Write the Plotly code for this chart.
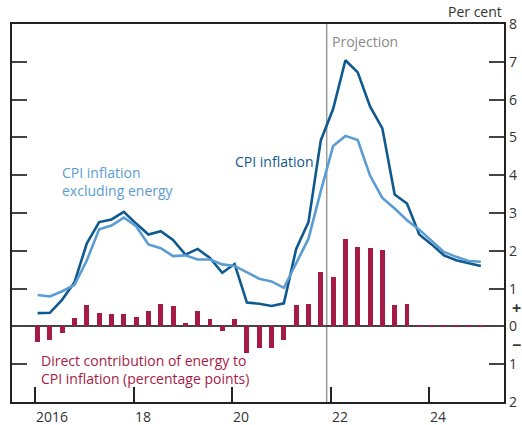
import plotly.graph_objects as go

# Quarterly positions, 2016 Q1 .. 2025 Q1
quarters = [f"{2016 + i // 4} Q{i % 4 + 1}" for i in range(37)]
x_pos = [2016.05 + 0.25 * i for i in range(37)]

cpi = [0.35, 0.36, 0.71, 1.17, 2.20, 2.76, 2.83, 3.03, 2.72, 2.43, 2.52, 2.29,
       1.90, 2.05, 1.81, 1.42, 1.65, 0.63, 0.60, 0.54, 0.61, 2.05, 2.76, 4.92,
       5.75, 7.04, 6.72, 5.82, 5.24, 3.49, 3.25, 2.43, 2.17, 1.88, 1.75, 1.67, 1.60]

cpi_ex_energy = [0.83, 0.79, 0.93, 1.10, 1.75, 2.57, 2.67, 2.88, 2.65, 2.17, 2.07, 1.86,
                 1.88, 1.77, 1.77, 1.64, 1.60, 1.42, 1.26, 1.19, 1.02, 1.67, 2.32, 3.58,
                 4.77, 5.04, 4.93, 3.99, 3.40, 3.12, 2.81, 2.56, 2.26, 1.97, 1.84, 1.73, 1.71]

energy_contrib = [-0.40, -0.36, -0.17, 0.22, 0.56, 0.36, 0.32, 0.34, 0.24, 0.40, 0.58, 0.53,
                  0.10, 0.40, 0.19, -0.12, 0.19, -0.71, -0.57, -0.57, -0.36, 0.56, 0.58, 1.43,
                  1.30, 2.32, 2.11, 2.08, 2.03, 0.57, 0.60, 0.02, 0.02, 0.05, 0.05, 0.05, 0.05]

projection_start = 2021.92

x_tick_vals = [2016, 2018, 2020, 2022, 2024]
x_tick_text = ["2016", "18", "20", "22", "24"]
y_tick_vals = [8, 7, 6, 5, 4, 3, 2, 1, 0, -1, -2]
y_tick_text = ["8", "7", "6", "5", "4", "3", "2", "1", "0", "1", "2"]

DARK = "#10598f"
LIGHT = "#5b9cd3"
CRIMSON = "#a61b45"
FONT = "Open Sans"

fig = go.Figure()

fig.add_trace(go.Bar(x=x_pos, y=energy_contrib, width=0.1, marker_color=CRIMSON,
                     marker_line_width=0, name="Energy contribution", yaxis="y"))
fig.add_trace(go.Scatter(x=x_pos, y=cpi, mode="lines", line=dict(color=DARK, width=2.6),
                         name="CPI inflation", yaxis="y"))
fig.add_trace(go.Scatter(x=x_pos, y=cpi_ex_energy, mode="lines", line=dict(color=LIGHT, width=2.6),
                         name="CPI inflation excluding energy", yaxis="y"))
# invisible trace to show right axis
fig.add_trace(go.Scatter(x=[x_pos[0]], y=[0], mode="markers", marker=dict(opacity=0),
                         yaxis="y2", hoverinfo="skip", showlegend=False))

# x tick labels, left-aligned at their ticks as in the reference
x_label_annots = [
    dict(text=t, x=v, y=0, xref="x", yref="paper", xanchor="left", yanchor="top",
         yshift=-4, showarrow=False, borderpad=0, font=dict(size=14, color="#333"))
    for v, t in zip(x_tick_vals, x_tick_text)
]

fig.update_layout(
    width=522, height=425,
    margin=dict(l=12, r=18, t=24, b=23),
    paper_bgcolor="white", plot_bgcolor="white",
    showlegend=False, bargap=0,
    font=dict(family=FONT, size=14, color="#333333"),
    xaxis=dict(range=[2015.53, 2025.52], tickvals=x_tick_vals, showticklabels=False,
               ticks="inside", ticklen=15, tickwidth=1.5, tickcolor="#222",
               showgrid=False, zeroline=False, showline=True, linecolor="#222",
               linewidth=1.5, mirror=True, automargin=False),
    yaxis=dict(range=[-2, 8], tickvals=y_tick_vals, ticks="inside", ticklen=15,
               tickwidth=1.5, tickcolor="#444", showticklabels=False, showgrid=False,
               zeroline=True, zerolinecolor="#444", zerolinewidth=1.5,
               showline=True, linecolor="#222", linewidth=1.5, mirror=True,
               automargin=False),
    yaxis2=dict(range=[-2, 8], overlaying="y", side="right", tickvals=y_tick_vals,
                ticktext=y_tick_text, ticks="inside", ticklen=15, tickwidth=1.5,
                tickcolor="#444", showgrid=False, zeroline=False, showline=False,
                automargin=False, ticklabelstandoff=4,
                tickfont=dict(size=14, color="#333")),
    shapes=[dict(type="line", xref="x", yref="paper", x0=projection_start, x1=projection_start,
                 y0=0, y1=1, line=dict(color="#9a9a9a", width=1.5), layer="below")],
    annotations=x_label_annots + [
        dict(text="CPI inflation", x=0.451, y=0.636, xref="paper", yref="paper",
             xanchor="left", yanchor="middle", showarrow=False, borderpad=0,
             font=dict(size=14, color=DARK)),
        dict(text="CPI inflation<br>excluding energy", x=0.0996, y=0.584, xref="paper",
             yref="paper", xanchor="left", yanchor="middle", align="left", showarrow=False,
             borderpad=0, font=dict(size=14, color=LIGHT)),
        dict(text="Direct contribution of energy to<br>CPI inflation (percentage points)",
             x=0.0569, y=0.086, xref="paper", yref="paper", xanchor="left",
             yanchor="middle", align="left", showarrow=False, borderpad=0,
             font=dict(size=14, color=CRIMSON)),
        dict(text="Projection", x=0.648, y=0.955, xref="paper", yref="paper",
             xanchor="left", yanchor="middle", showarrow=False, borderpad=0,
             font=dict(size=14, color="#8a8a8a")),
        dict(text="Per cent", x=0.998, y=1.032, xref="paper", yref="paper",
             xanchor="right", yanchor="middle", showarrow=False, borderpad=0,
             font=dict(size=14, color="#333")),
        dict(text="<b>+</b>", x=1.0, y=0.249, xref="paper", yref="paper", xshift=12,
             xanchor="center", yanchor="middle", showarrow=False, borderpad=0,
             font=dict(size=16, color="#333")),
        dict(text="<b>\u2212</b>", x=1.0, y=0.150, xref="paper", yref="paper", xshift=12,
             xanchor="center", yanchor="middle", showarrow=False, borderpad=0,
             font=dict(size=16, color="#333")),
    ],
)

fig.write_html("out.html", config={"displayModeBar": False},
               post_script="document.body.style.margin='0px';document.body.style.overflow='hidden';")
